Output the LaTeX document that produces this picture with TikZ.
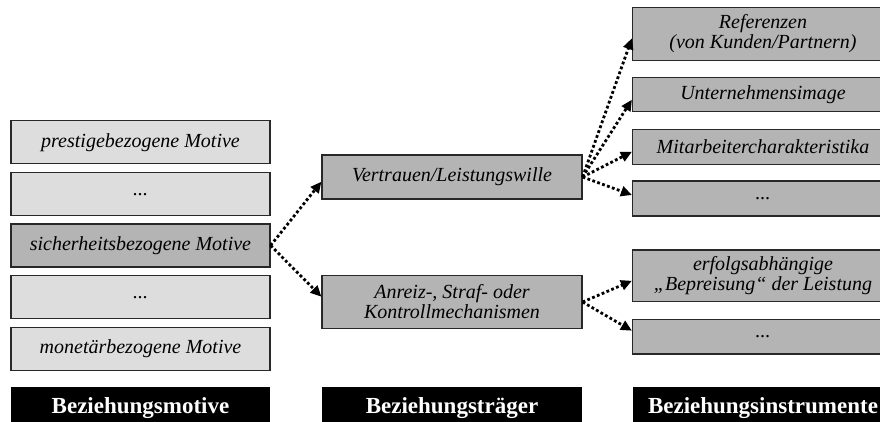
\documentclass[tikz,border=0pt]{standalone}
\usepackage{fontspec}
\setmainfont{Liberation Serif}
\usetikzlibrary{arrows.meta,calc}
\definecolor{lightbox}{RGB}{221,221,221}
\definecolor{darkbox}{RGB}{180,180,180}
\definecolor{boxline}{RGB}{40,40,40}
\tikzset{
  basebox/.style={rectangle, draw=boxline, line width=1.2pt, inner sep=0pt, align=center,
    font=\itshape\fontsize{20}{20}\selectfont},
  lightstyle/.style={basebox, fill=lightbox, minimum width=259pt, minimum height=43pt},
  darkleft/.style={basebox, fill=darkbox, minimum width=259pt, minimum height=43pt},
  midbox/.style={basebox, fill=darkbox, minimum width=260pt},
  rightbox/.style={basebox, fill=darkbox, minimum width=261pt},
  labelbox/.style={rectangle, fill=black, text=white, inner sep=0pt, minimum height=42pt,
    font=\bfseries\fontsize{23}{26}\selectfont},
  dotarrow/.style={line width=2.8pt, dash pattern=on 2.8pt off 2.4pt,
    -{Triangle[length=11pt,width=10pt]}}
}
\begin{document}
\begin{tikzpicture}[x=1pt,y=-1pt]
\useasboundingbox (0,0) rectangle (880,421);
\clip (0,0) rectangle (880,421);
% left column
\node[lightstyle] (m1) at (140.5,142.3) {prestigebezogene Motive};
\node[lightstyle] (m2) at (140.5,194.2) {...};
\node[darkleft]   (m3) at (140.5,245.5) {sicherheitsbezogene Motive};
\node[lightstyle] (m4) at (140.5,297.2) {...};
\node[lightstyle] (m5) at (140.5,349.0) {monetärbezogene Motive};
% middle column
\node[midbox, minimum height=44pt] (t1) at (452,177) {Vertrauen/Leistungswille};
\node[midbox, minimum height=52.6pt] (t2) at (452,302) {Anreiz-, Straf- oder\\Kontrollmechanismen};
% right column
\node[rightbox, minimum height=53.4pt] (i1) at (763,34) {Referenzen\\(von Kunden/Partnern)};
\node[rightbox, minimum height=34pt] (i2) at (763,94.7) {Unternehmensimage};
\node[rightbox, minimum height=35pt] (i3) at (763,146.8) {Mitarbeitercharakteristika};
\node[rightbox, minimum height=35pt] (i4) at (763,198.5) {...};
\node[rightbox, minimum height=51.7pt] (i5) at (763,275.8) {erfolgsabhängige\\„Bepreisung“ der Leistung};
\node[rightbox, minimum height=34.7pt] (i6) at (763,336.7) {...};
% labels
\node[labelbox, minimum width=259pt] (l1) at (140.5,408) {Beziehungsmotive};
\node[labelbox, minimum width=260pt] (l2) at (452,408) {Beziehungsträger};
\node[labelbox, minimum width=261pt] (l3) at (763,408) {Beziehungsinstrumente};
% arrows
\draw[dotarrow] (m3.east) -- ([yshift=-4.7pt]t1.west);
\draw[dotarrow] (m3.east) -- ([yshift=5.3pt]t2.west);
\draw[dotarrow] (t1.east) -- ([yshift=-4.3pt]i1.west);
\draw[dotarrow] (t1.east) -- ([yshift=-5pt]i2.west);
\draw[dotarrow] (t1.east) -- ([yshift=-5pt]i3.west);
\draw[dotarrow] (t1.east) -- ([yshift=3.5pt]i4.west);
\draw[dotarrow] (t2.east) -- ([yshift=-5pt]i5.west);
\draw[dotarrow] (t2.east) -- ([yshift=6pt]i6.west);
\end{tikzpicture}
\end{document}
